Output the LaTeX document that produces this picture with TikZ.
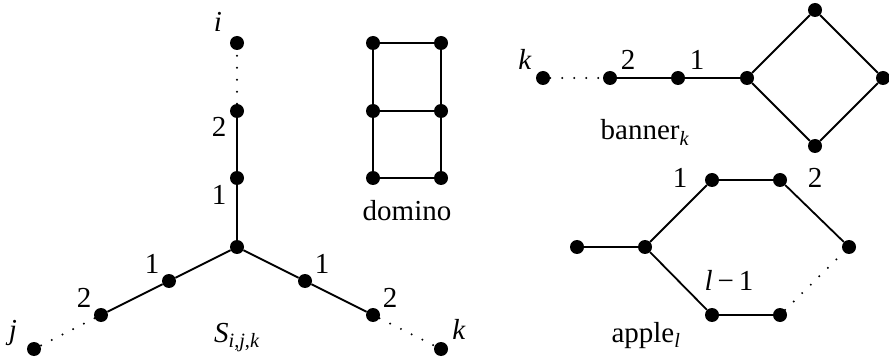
\documentclass[tikz,border=0pt]{standalone}
\usepackage{fontspec}
\setmainfont{Liberation Serif}
\begin{document}
\begin{tikzpicture}[x=1pt,y=-1pt,
  vtx/.style={circle,fill=black,inner sep=0pt,minimum size=14pt},
  edge/.style={line width=1.8pt},
  dotline/.style={line width=2.2pt,line cap=round,dash pattern=on 0pt off 12pt},
  lbl/.style={inner sep=0pt,anchor=base,font=\fontsize{29}{34}\selectfont}]
\useasboundingbox (0,0) rectangle (889,358);
% S_{i,j,k}
\node[vtx] (c) at (237,247) {};
\node[vtx] (u1) at (237,178) {};
\node[vtx] (u2) at (237,111) {};
\node[vtx] (ui) at (237,43) {};
\node[vtx] (l1) at (169,281) {};
\node[vtx] (l2) at (101,315) {};
\node[vtx] (lj) at (34,349) {};
\node[vtx] (r1) at (305,281) {};
\node[vtx] (r2) at (373,315) {};
\node[vtx] (rk) at (441,349) {};
\draw[edge] (c) -- (u1) -- (u2);
\draw[edge] (c) -- (l1) -- (l2);
\draw[edge] (c) -- (r1) -- (r2);
\draw[dotline] (u2) -- (ui);
\draw[dotline] (l2) -- (lj);
\draw[dotline] (r2) -- (rk);
\node[lbl] (ti) at (218,32) {\textit{i}};
\node[lbl] (tu2) at (219,137) {2};
\node[lbl] (tu1) at (219,205) {1};
\node[lbl] (tl1) at (152,273) {1};
\node[lbl] (tl2) at (84,307) {2};
\node[lbl] (tj) at (13,339) {\textit{j}};
\node[lbl] (tr1) at (322,273) {1};
\node[lbl] (tr2) at (390,307) {2};
\node[lbl] (tk) at (459,339) {\textit{k}};
\node[lbl] (ts) at (237,342) {\textit{S}\textsubscript{\textit{i},\textit{j},\textit{k}}};
% domino
\node[vtx] (d1) at (373,43) {};
\node[vtx] (d2) at (441,43) {};
\node[vtx] (d3) at (373,111) {};
\node[vtx] (d4) at (441,111) {};
\node[vtx] (d5) at (373,178) {};
\node[vtx] (d6) at (441,178) {};
\draw[edge] (d1) -- (d2) -- (d4) -- (d6) -- (d5) -- (d3) -- (d1);
\draw[edge] (d3) -- (d4);
\node[lbl] (td) at (407,221) {domino};
% banner
\node[vtx] (bk) at (543,78) {};
\node[vtx] (b2) at (610,78) {};
\node[vtx] (b1) at (678,78) {};
\node[vtx] (bj) at (747,78) {};
\node[vtx] (bt) at (815,10) {};
\node[vtx] (br) at (883,78) {};
\node[vtx] (bb) at (815,146) {};
\draw[dotline] (bk) -- (b2);
\draw[edge] (b2) -- (b1) -- (bj) -- (bt) -- (br) -- (bb) -- (bj);
\node[lbl] (tbk) at (525,70) {\textit{k}};
\node[lbl] (tb2) at (628,70) {2};
\node[lbl] (tb1) at (697,70) {1};
\node[lbl] (tban) at (645,140) {banner\textsubscript{\textit{k}}};
% apple
\node[vtx] (a0) at (577,247) {};
\node[vtx] (aj) at (645,247) {};
\node[vtx] (atl) at (712,180) {};
\node[vtx] (atr) at (780,180) {};
\node[vtx] (ar) at (849,247) {};
\node[vtx] (abr) at (780,315) {};
\node[vtx] (abl) at (712,315) {};
\draw[edge] (a0) -- (aj) -- (atl) -- (atr) -- (ar);
\draw[edge] (aj) -- (abl) -- (abr);
\draw[dotline] (abr) -- (ar);
\node[lbl] (ta1) at (680,188) {1};
\node[lbl] (ta2) at (815,188) {2};
\node[lbl] (tal) at (729,290) {\textit{l}\,−\,1};
\node[lbl] (tapp) at (646,342) {apple\textsubscript{\textit{l}}};
\end{tikzpicture}
\end{document}
